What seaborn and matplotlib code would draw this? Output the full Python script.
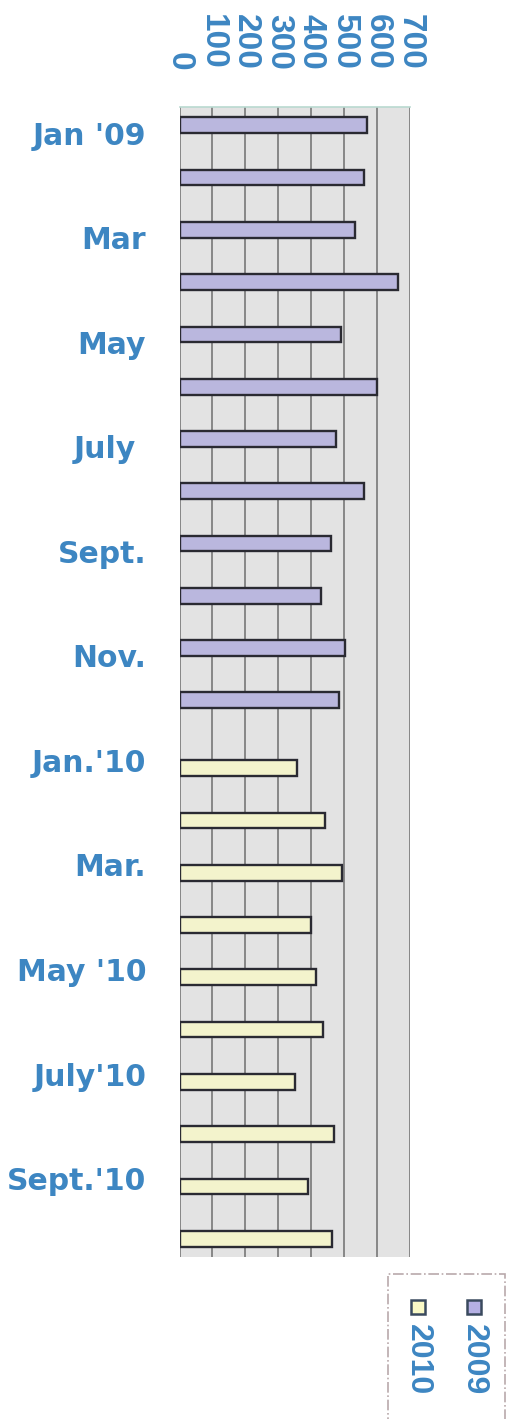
import numpy as np
import pandas as pd
import matplotlib
matplotlib.use("Agg")
import matplotlib.pyplot as plt
from matplotlib.patches import Rectangle
import seaborn as sns

# ---- data ----
months = ["Jan '09", "Feb '09", "Mar '09", "Apr '09", "May '09", "Jun '09",
          "Jul '09", "Aug '09", "Sep '09", "Oct '09", "Nov '09", "Dec '09",
          "Jan '10", "Feb '10", "Mar '10", "Apr '10", "May '10", "Jun '10",
          "Jul '10", "Aug '10", "Sep '10", "Oct '10"]
tick_labels = ["Jan '09", "", "Mar", "", "May", "", "July ", "", "Sept.", "",
               "Nov.", "", "Jan.'10", "", "Mar.", "", "May '10", "",
               "July'10", "", "Sept.'10", ""]
values_2009 = [569, 559, 533, 663, 490, 599, 475, 559, 459, 429, 503, 483]
values_2010 = [358, 441, 492, 399, 416, 436, 350, 470, 391, 463]
years = ["2009", "2010"]
x_ticks = [0, 100, 200, 300, 400, 500, 600, 700]

df = pd.DataFrame({
    "month": months,
    "value": values_2009 + values_2010,
    "year": [years[0]] * len(values_2009) + [years[1]] * len(values_2010),
})

palette = {"2009": "#b5b0e4", "2010": "#f9f9c6"}
label_color = "#3d86c2"

sns.set_style("white")
plt.rcParams["font.family"] = ["Liberation Sans", "DejaVu Sans"]

W, H = 512, 1419
fig = plt.figure(figsize=(W / 100, H / 100), dpi=100)
ax_left, ax_right = 179.5, 410.0
ax_top, ax_bottom = 107.0, 1257.0
ax = fig.add_axes([ax_left / W, 1 - ax_bottom / H,
                   (ax_right - ax_left) / W, (ax_bottom - ax_top) / H])
ax.set_facecolor("#e3e3e3")

sns.barplot(data=df, y="month", x="value", hue="year", order=months,
            hue_order=years, palette=palette, dodge=True, width=0.6,
            orient="h", edgecolor="#2a2a32", linewidth=1.7, legend=False,
            ax=ax, zorder=3)

ax.set_xlim(0, 700)
ax.set_ylim(len(months) - 0.5, -0.5)
ax.set_xticks(x_ticks)
ax.set_xticklabels([str(v) for v in x_ticks], rotation=-90,
                   fontsize=24, fontweight="bold", color=label_color)
ax.xaxis.tick_top()
ax.tick_params(axis="x", length=0, pad=26.5)
ax.set_yticks(range(len(months)))
ax.set_yticklabels(tick_labels, fontsize=21.5, fontweight="bold",
                   color=label_color, family=["DejaVu Sans"])
ax.tick_params(axis="y", length=0, pad=24)
ax.set_xlabel("")
ax.set_ylabel("")
ax.grid(axis="x", color="#6e6e6e", linewidth=1.1, zorder=1)
ax.grid(axis="y", visible=False)
ax.set_axisbelow(True)
for s in ["left", "right", "bottom"]:
    ax.spines[s].set_visible(False)
ax.spines["top"].set_color("#b9d9d0")
ax.spines["top"].set_linewidth(1.2)

# ---- legend (rotated, drawn manually) ----
def fx(px):
    return px / W

def fy(py):
    return 1 - py / H

fig.add_artist(Rectangle((fx(388), fy(1422)), fx(505) - fx(388),
                         fy(1274) - fy(1422), transform=fig.transFigure,
                         fill=False, edgecolor="#b9a9ab", linewidth=1.2,
                         linestyle="-."))
for yr, cx in zip(years, [474, 418]):
    sq = 14
    fig.add_artist(Rectangle((fx(cx - sq / 2), fy(1307 + sq / 2)), sq / W,
                             sq / H, transform=fig.transFigure,
                             facecolor=palette[yr], edgecolor="#3a4a5e",
                             linewidth=1.8))
    fig.text(fx(cx), fy(1324), yr, rotation=-90, ha="center", va="top",
             fontsize=23, fontweight="bold", color=label_color)

fig.savefig("out.png", dpi=100)
